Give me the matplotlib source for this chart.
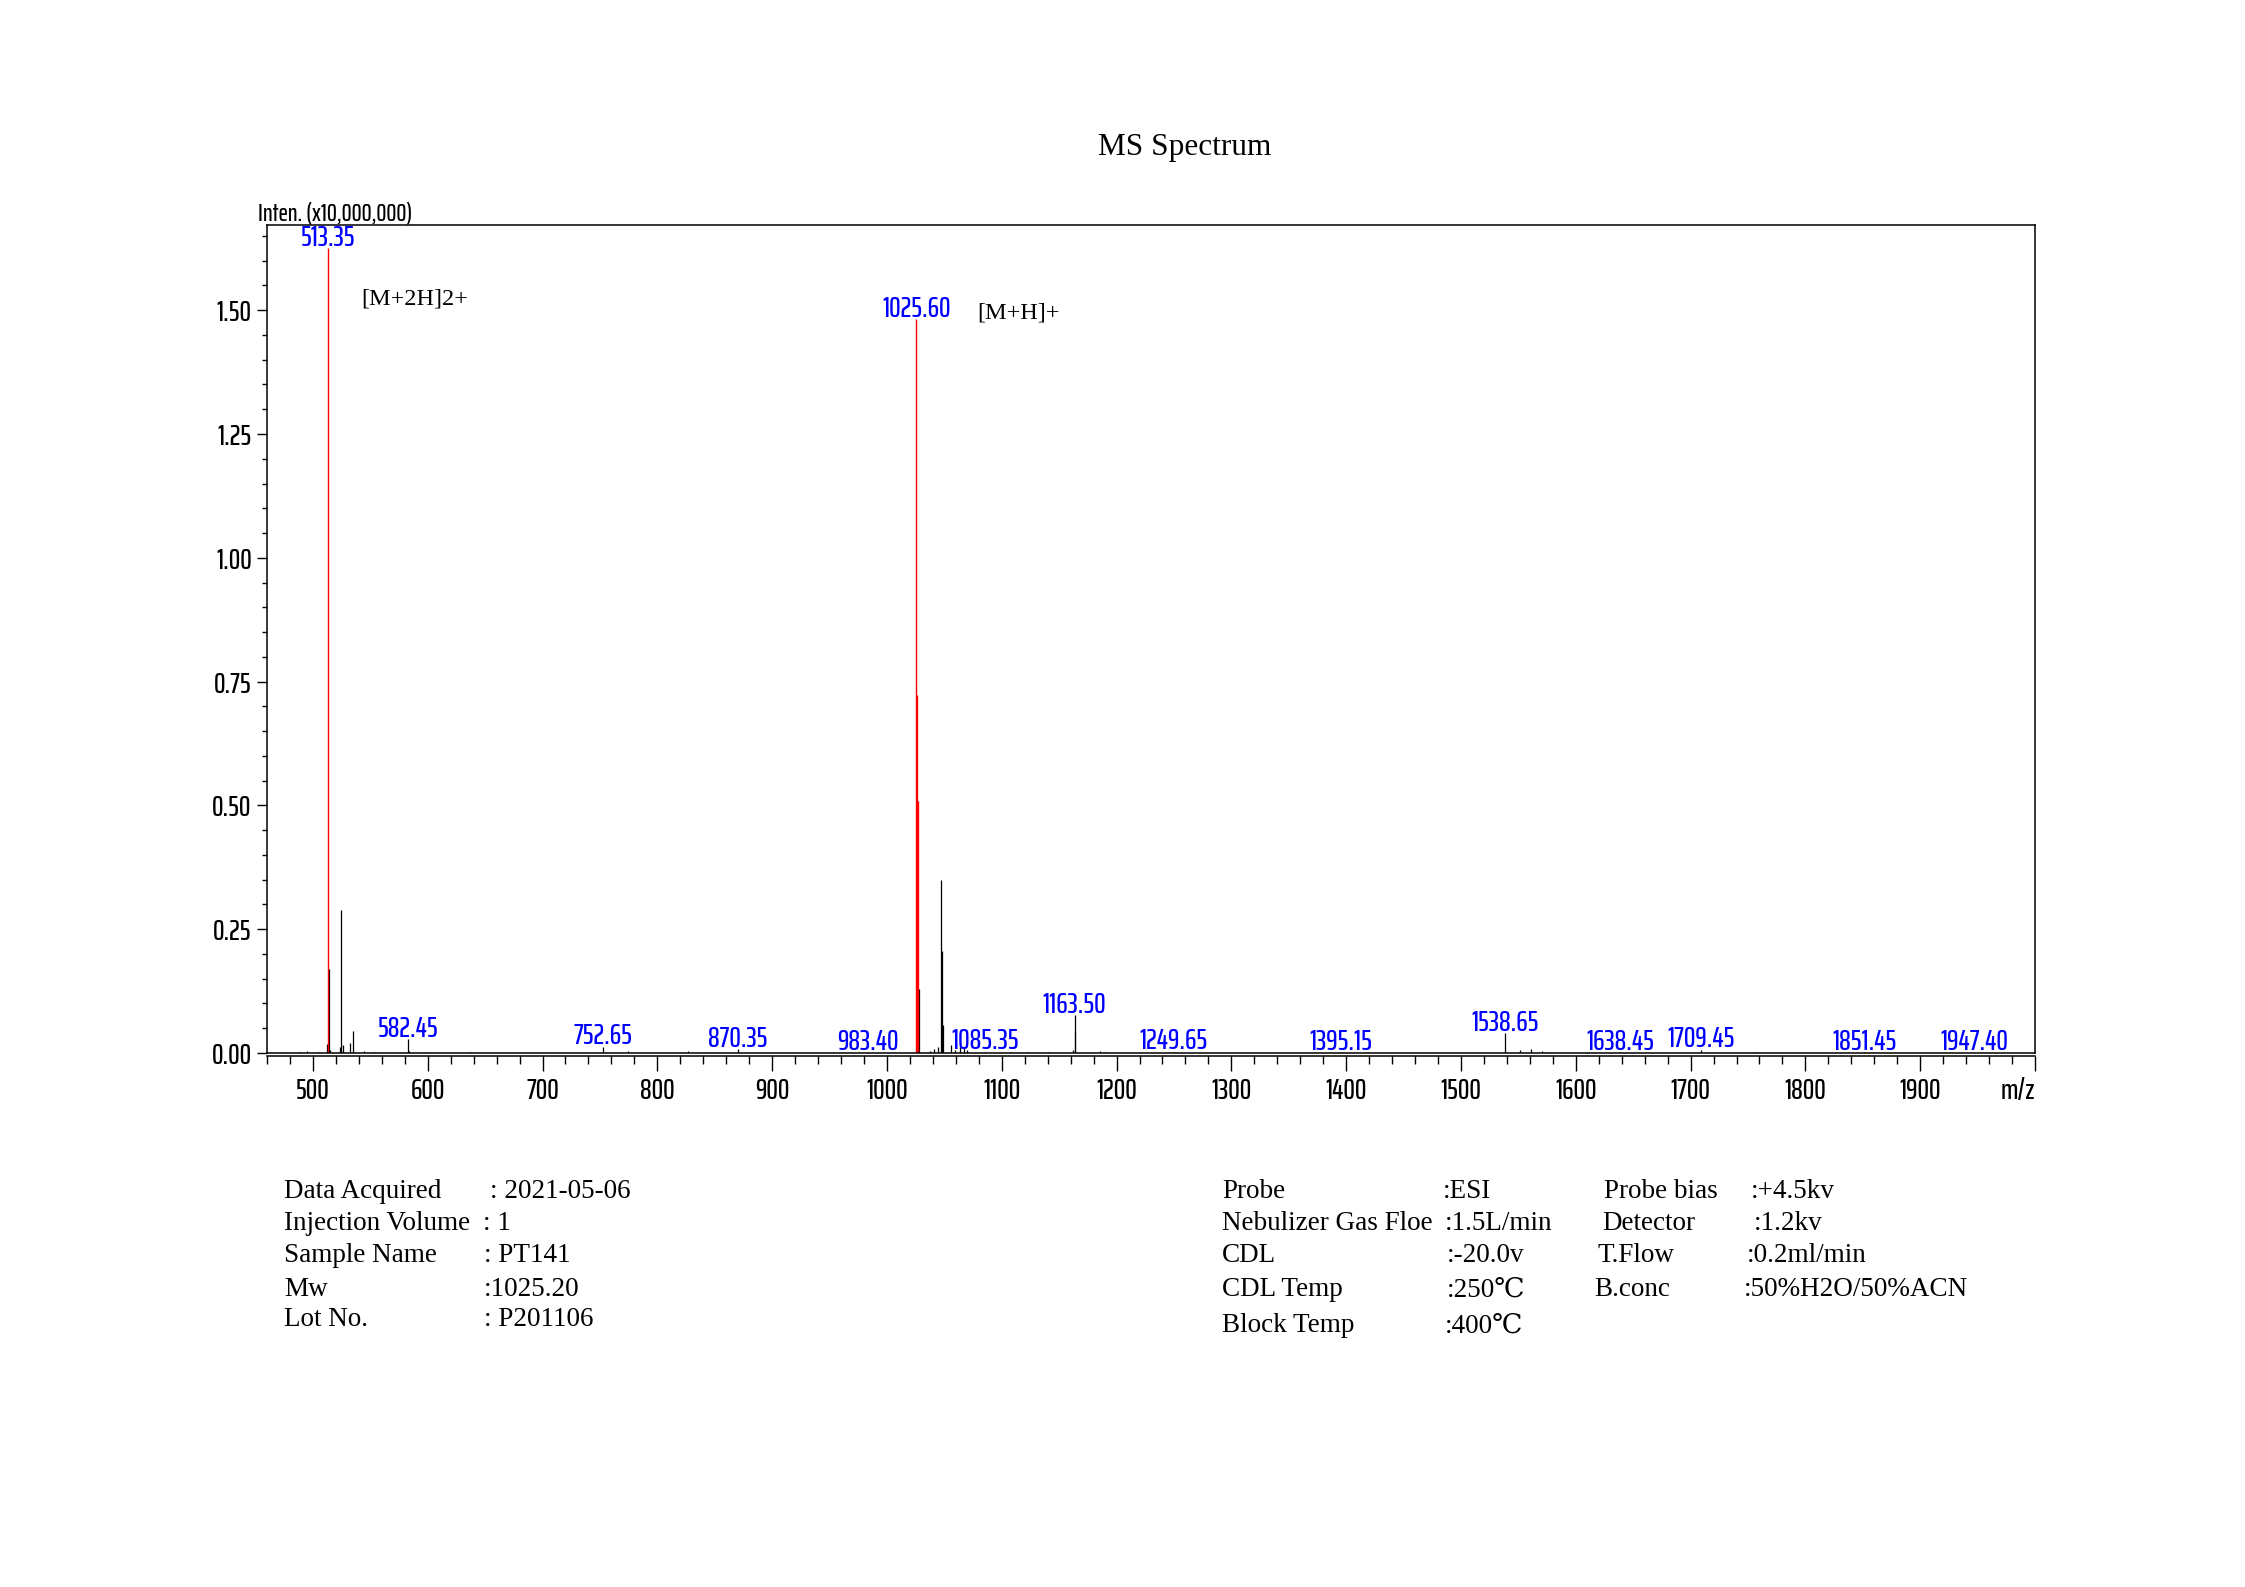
import matplotlib
matplotlib.use("Agg")
import matplotlib.pyplot as plt
from matplotlib import font_manager
from matplotlib.ticker import MultipleLocator

# labelled ion peaks drawn in red
red_mz = [513.35, 1025.60, 1026.35, 1026.90]
red_int = [1.625, 1.482, 0.723, 0.509]

# remaining peaks (black)
black_mz = [476.0, 488.5, 495.2, 505.0, 512.4, 513.90, 515.0, 524.0, 524.60, 525.8,
            532.5, 535.1, 544.2, 553.0, 582.45, 584.0, 601.0, 637.0, 752.65, 774.6,
            826.9, 845.0, 852.0, 870.35, 983.40, 1028.3, 1037.1, 1041.4, 1044.6, 1047.4,
            1048.2, 1049.0, 1055.7, 1059.1, 1063.5, 1067.0, 1069.3, 1085.35, 1108.0, 1122.0,
            1140.0, 1162.4, 1163.50, 1164.1, 1186.0, 1190.0, 1249.65, 1395.15, 1538.65, 1551.3,
            1561.0, 1571.0, 1577.0, 1610.0, 1638.45, 1709.45, 1755.0, 1758.0, 1851.45, 1947.40]
black_int = [0.003, 0.002, 0.004, 0.003, 0.018, 0.170, 0.006, 0.012, 0.289, 0.017,
             0.020, 0.045, 0.004, 0.003, 0.028, 0.004, 0.003, 0.003, 0.013, 0.004,
             0.005, 0.003, 0.002, 0.008, 0.002, 0.129, 0.004, 0.008, 0.013, 0.349,
             0.206, 0.057, 0.017, 0.006, 0.013, 0.010, 0.006, 0.003, 0.002, 0.003,
             0.002, 0.007, 0.077, 0.044, 0.004, 0.003, 0.003, 0.002, 0.040, 0.007,
             0.009, 0.004, 0.003, 0.002, 0.002, 0.007, 0.002, 0.002, 0.002, 0.001]

# peaks carrying a blue m/z label
label_mz = [513.35, 582.45, 752.65, 870.35, 983.40, 1025.60, 1085.35, 1163.50, 1249.65,
            1395.15, 1538.65, 1638.45, 1709.45, 1851.45, 1947.40]
label_txt = ["513.35", "582.45", "752.65", "870.35", "983.40", "1025.60", "1085.35", "1163.50",
             "1249.65", "1395.15", "1538.65", "1638.45", "1709.45", "1851.45", "1947.40"]

x_ticks = list(range(500, 2001, 100))
x_ticklabels = [str(v) for v in range(500, 2000, 100)] + [""]
y_ticks = [0.0, 0.25, 0.50, 0.75, 1.00, 1.25, 1.50]

left_labels = ["Data Acquired", "Injection Volume", "Sample Name", "Mw", "Lot No."]
left_values = [": 2021-05-06", ": 1", ": PT141", ":1025.20", ": P201106"]
mid_labels = ["Probe", "Nebulizer Gas Floe", "CDL", "CDL Temp", "Block Temp"]
mid_values = [":ESI", ":1.5L/min", ":-20.0v", ":250\u2103", ":400\u2103"]
right_labels = ["Probe bias", "Detector", "T.Flow", "B.conc"]
right_values = [":+4.5kv", ":1.2kv", ":0.2ml/min", ":50%H2O/50%ACN"]

# fonts: a condensed sans for the axes if one is installed, serif for the notes
installed = sorted({f.name for f in font_manager.fontManager.ttflist})
narrow = None
for key in ("Liberation Sans Narrow", "ExtraCondensed", "Condensed", "Narrow"):
    hits = [n for n in installed if key in n]
    if hits:
        narrow = hits[0]
        break
if narrow:
    sans, fs = narrow, 21
else:
    sans, fs = "Liberation Sans", 14
plt.rcParams["font.family"] = [sans, "DejaVu Sans"]
plt.rcParams["font.weight"] = "medium"
serif = ["Liberation Serif", "DejaVu Serif", "DejaVu Sans"]

W, H = 2245, 1587
fig = plt.figure(figsize=(W / 100, H / 100), dpi=100, facecolor="white")


def fx(px):
    return px / W


def fy(py):
    return 1 - py / H


ax = fig.add_axes([fx(267), fy(1053), (2035 - 267) / W, (1053 - 225) / H])
ax.set_xlim(460, 2000)
ax.set_ylim(0, 1.672)

ax.vlines(black_mz, 0, black_int, colors="black", lw=0.9)
ax.vlines(red_mz, 0, red_int, colors="red", lw=1.0)

heights = dict(zip(black_mz, black_int))
heights.update(zip(red_mz, red_int))
for m, t in zip(label_mz, label_txt):
    ax.annotate(t, (m, heights[m]), xytext=(0, 1.5), textcoords="offset points",
                ha="center", va="baseline", color="blue", fontsize=fs,
                annotation_clip=False)

# box and separate tick axis slightly below it
for s in ax.spines.values():
    s.set_linewidth(1.1)
    s.set_color("black")
ax.spines["bottom"].set_position(("outward", 2.5))
ax.axhline(0, color="black", lw=1.1, clip_on=False)

ax.set_xticks(x_ticks, x_ticklabels)
ax.xaxis.set_minor_locator(MultipleLocator(20))
ax.set_yticks(y_ticks, [f"{v:.2f}" for v in y_ticks])
ax.yaxis.set_minor_locator(MultipleLocator(0.05))
ax.tick_params(axis="x", which="major", length=11, width=1, pad=4, labelsize=fs)
ax.tick_params(axis="x", which="minor", length=6, width=1)
ax.tick_params(axis="y", which="major", length=7, width=1, pad=4, labelsize=fs)
ax.tick_params(axis="y", which="minor", length=3.5, width=1)

ax.annotate("m/z", (2000, 0), xycoords=ax.get_xaxis_transform(),
            xytext=(0, -17.5), textcoords="offset points",
            ha="right", va="top", fontsize=fs, annotation_clip=False)

fig.text(fx(258), fy(226), "Inten. (x10,000,000)", ha="left", va="bottom", fontsize=fs - 3)

# ion annotations
ax.text(541.9, 1.522, "[M+2H]2+", ha="left", va="center", fontsize=17.5,
        family=serif, weight="normal")
ax.text(1079, 1.494, "[M+H]+", ha="left", va="center", fontsize=17.5,
        family=serif, weight="normal")

fig.text(fx(1185), fy(147), "MS Spectrum", ha="center", va="center",
         fontsize=22.5, family=serif, weight="normal")

# acquisition notes
left_y = [1191, 1224, 1256, 1289, 1320]
left_vx = [490, 483, 484, 484, 484]
for lab, val, y, vx in zip(left_labels, left_values, left_y, left_vx):
    fig.text(fx(284), fy(y), lab, ha="left", va="center", fontsize=19.5,
             family=serif, weight="normal")
    fig.text(fx(vx), fy(y), val, ha="left", va="center", fontsize=19.5,
             family=serif, weight="normal")

mid_y = [1191, 1224, 1256, 1290, 1326]
mid_vx = [1443, 1445, 1447, 1447, 1445]
for lab, val, y, vx in zip(mid_labels, mid_values, mid_y, mid_vx):
    fig.text(fx(1222), fy(y), lab, ha="left", va="center", fontsize=19.5,
             family=serif, weight="normal")
    fig.text(fx(vx), fy(y), val, ha="left", va="center", fontsize=19.5,
             family=serif, weight="normal")

right_lx = [1604, 1602, 1597, 1594]
right_vx = [1751, 1754, 1747, 1744]
for lab, val, y, lx, vx in zip(right_labels, right_values, mid_y, right_lx, right_vx):
    fig.text(fx(lx), fy(y), lab, ha="left", va="center", fontsize=19.5,
             family=serif, weight="normal")
    fig.text(fx(vx), fy(y), val, ha="left", va="center", fontsize=19.5,
             family=serif, weight="normal")

fig.savefig("out.png", dpi=100, facecolor="white")
